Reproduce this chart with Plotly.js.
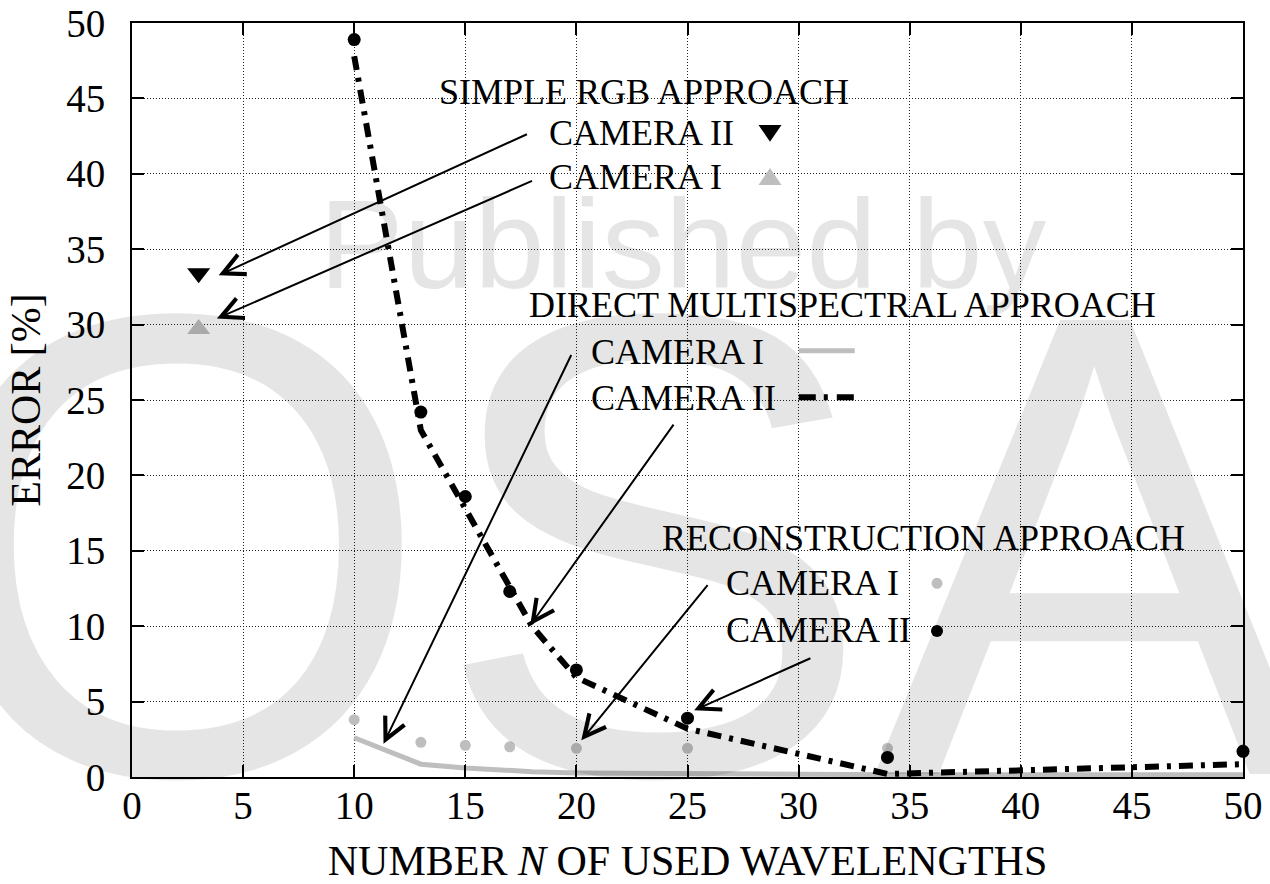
<!DOCTYPE html>
<html><head><meta charset="utf-8">
<script src="https://cdn.plot.ly/plotly-3.0.1.min.js"></script>
<style>body{margin:0;background:#fff}#chart{width:1270px;height:884px}</style>
</head><body><div id="chart"></div>
<script>
// ---- data ----
const rgbX = [3];
const rgbCam2 = [33.4];
const rgbCam1 = [29.7];
const directX = [10, 13, 15, 18, 20, 25, 34, 50];
const directCam1 = [2.6, 0.85, 0.6, 0.35, 0.27, 0.2, 0.15, 0.15];
const directCam2 = [47.8, 23.0, 17.8, 10.0, 6.6, 3.2, 0.2, 0.85];
const reconX = [10, 13, 15, 17, 20, 25, 34, 50];
const reconCam1 = [3.8, 2.3, 2.1, 2.0, 1.9, 1.9, 1.9, 1.8];
const reconCam2 = [48.9, 24.2, 18.6, 12.3, 7.1, 3.9, 1.3, 1.7];
const groupTitles = ['SIMPLE RGB APPROACH', 'DIRECT MULTISPECTRAL APPROACH', 'RECONSTRUCTION APPROACH'];
const cam1 = 'CAMERA I', cam2 = 'CAMERA II';

// ---- layout helpers (pixel -> paper) ----
const L = 132, T = 23, W = 1111, H = 754;
const px = v => (v - L) / W;
const py = v => (T + H - v) / H;
const GREY = '#bebebe';
const SERIF = 'Liberation Serif, Times New Roman, serif';
const DASHDOT = '14px,8px,4px,8px';

const traces = [
  {x: rgbX, y: rgbCam2, type: 'scatter', mode: 'markers', cliponaxis: false,
   marker: {symbol: 'triangle-down', size: 20, color: '#000'}},
  {x: rgbX, y: rgbCam1, type: 'scatter', mode: 'markers', cliponaxis: false,
   marker: {symbol: 'triangle-up', size: 20, color: GREY}},
  {x: directX, y: directCam1, type: 'scatter', mode: 'lines',
   line: {color: GREY, width: 5}},
  {x: reconX, y: reconCam1, type: 'scatter', mode: 'markers', cliponaxis: false,
   marker: {symbol: 'circle', size: 11, color: GREY}},
  {x: reconX, y: reconCam2, type: 'scatter', mode: 'markers', cliponaxis: false,
   marker: {symbol: 'circle', size: 13, color: '#000'}},
  {x: directX, y: directCam2, type: 'scatter', mode: 'lines',
   line: {color: '#000', width: 6, dash: DASHDOT}}
];

const labelPos = [
  [groupTitles[0], 436.7, 91.7],
  [cam2, 546.7, 133.3],
  [cam1, 546.7, 176.7],
  [groupTitles[1], 526.7, 305],
  [cam1, 589.4, 351.5],
  [cam2, 589.4, 398],
  [groupTitles[2], 659.9, 537.5],
  [cam1, 723.5, 583.3],
  [cam2, 723.5, 630]
];

// arrow: head x,y  tail ax,ay (data units)
const arrowPos = [
  [3.90, 33.27, 17.84, 42.67],
  [3.82, 30.40, 18.07, 39.57],
  [11.32, 2.21, 19.80, 28.08],
  [17.92, 10.06, 24.42, 23.47],
  [20.22, 2.43, 25.96, 12.82],
  [25.30, 4.42, 30.60, 7.92]
];

const WM = 'rgba(0,0,0,0.1)';
const annotations = [
  {text: 'OSA', xref: 'paper', yref: 'paper', x: px(-82), y: py(545), xanchor: 'left', yanchor: 'middle',
   showarrow: false, font: {family: 'Liberation Sans, Arial, sans-serif', size: 660, color: WM}},
  {text: 'Published by', xref: 'paper', yref: 'paper', x: px(683), y: py(244), xanchor: 'center', yanchor: 'middle',
   showarrow: false, font: {family: 'Liberation Sans, Arial, sans-serif', size: 127, color: WM}}
];
labelPos.forEach(([t, x, y]) => annotations.push({
  text: t, xref: 'paper', yref: 'paper', x: px(x), y: py(y), xanchor: 'left', yanchor: 'middle',
  showarrow: false, font: {family: SERIF, size: 36, color: '#000'}
}));
arrowPos.forEach(([x, y, ax, ay]) => annotations.push({
  text: '', xref: 'x', yref: 'y', axref: 'x', ayref: 'y', x, y, ax, ay,
  showarrow: true, arrowhead: 5, arrowsize: 2.1, arrowwidth: 2, arrowcolor: '#000', standoff: 0
}));

const shapes = [
  // legend samples
  {type: 'path', xref: 'paper', yref: 'paper', xsizemode: 'pixel', ysizemode: 'scaled', xanchor: px(770),
   path: `M-11.5,${py(125)} L11.5,${py(125)} L0,${py(141.7)} Z`, fillcolor: '#000', line: {width: 0}},
  {type: 'path', xref: 'paper', yref: 'paper', xsizemode: 'pixel', ysizemode: 'scaled', xanchor: px(770),
   path: `M-11.5,${py(185)} L11.5,${py(185)} L0,${py(168)} Z`, fillcolor: GREY, line: {width: 0}},
  {type: 'line', xref: 'paper', yref: 'paper', x0: px(798.8), x1: px(854.7), y0: py(350.7), y1: py(350.7),
   line: {color: GREY, width: 5}},
  {type: 'line', xref: 'paper', yref: 'paper', x0: px(798.8), x1: px(856), y0: py(397.3), y1: py(397.3),
   line: {color: '#000', width: 6, dash: '17px,8px,4px,9px'}},
  {type: 'circle', xref: 'paper', yref: 'paper', xsizemode: 'pixel', ysizemode: 'pixel',
   xanchor: px(937), yanchor: py(583.3), x0: -5.5, x1: 5.5, y0: -5.5, y1: 5.5, fillcolor: GREY, line: {width: 0}},
  {type: 'circle', xref: 'paper', yref: 'paper', xsizemode: 'pixel', ysizemode: 'pixel',
   xanchor: px(937), yanchor: py(631), x0: -6, x1: 6, y0: -6, y1: 6, fillcolor: '#000', line: {width: 0}}
];

const axisCommon = {
  range: [0, 50], dtick: 5, tick0: 0, ticks: 'inside', ticklen: 12, tickwidth: 2, tickcolor: '#000',
  showline: true, linewidth: 2, linecolor: '#000', mirror: 'ticks', zeroline: false,
  showgrid: true, gridcolor: '#222', gridwidth: 1, griddash: '1px,2px',
  tickfont: {family: SERIF, size: 39, color: '#000'}, fixedrange: true
};

const layout = {
  width: 1270, height: 884,
  margin: {l: L, r: 1270 - L - W, t: T, b: 884 - T - H},
  paper_bgcolor: '#fff', plot_bgcolor: '#fff',
  showlegend: false,
  font: {family: SERIF, color: '#000'},
  xaxis: Object.assign({}, axisCommon, {
    title: {text: 'NUMBER <i>N</i> OF USED WAVELENGTHS', font: {family: SERIF, size: 42, color: '#000'}, standoff: 30},
    ticklabelstandoff: -7
  }),
  yaxis: Object.assign({}, axisCommon, {
    title: {text: 'ERROR [%]', font: {family: SERIF, size: 42, color: '#000'}, standoff: 13},
    ticklabelstandoff: 17
  }),
  annotations, shapes
};

Plotly.newPlot('chart', traces, layout, {displayModeBar: false, staticPlot: true});
</script></body></html>
